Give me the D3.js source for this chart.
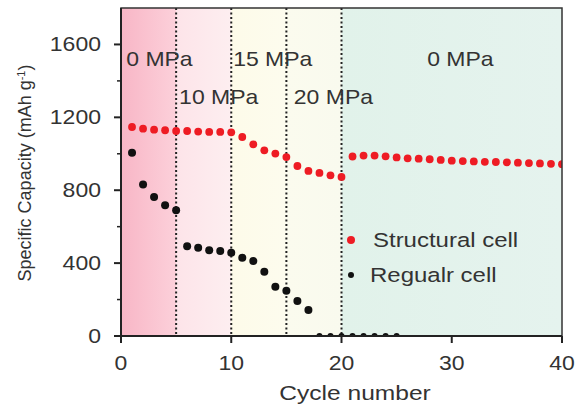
<!DOCTYPE html>
<html><head><meta charset="utf-8">
<script src="https://cdn.jsdelivr.net/npm/d3@7"></script>
<style>body{margin:0;background:#fff}svg{display:block}text{font-family:"Liberation Sans",Arial,sans-serif;fill:#333}</style>
</head><body><svg id="c" width="584" height="412"></svg>
<script>
const cycles = d3.range(1, 41);
const structural = [1147,1138,1132,1129,1125,1125,1122,1120,1120,1118,1092,1052,1019,1001,982,933,906,895,882,873,
  985,990,990,986,980,975,973,970,966,962,960,958,956,955,953,951,949,947,945,943];
const regularCycles = d3.range(1, 26);
const regular = [1006,831,763,718,690,493,484,471,466,457,429,411,352,270,248,192,142,0,0,0,0,0,0,0,0];
const bandBreaks = [0,5,10,15,20,40];
const bandColors = [["#f8b6c6","#fcd0da"],["#fde4e9","#fdeef0"],["#fdfbe9","#fdfcee"],["#fbfbee","#f9faee"],["#e1f2ea","#e5f3ee"]];
const pressureLabels = [{t:"0 MPa",x:0.2,row:0},{t:"10 MPa",x:5,row:1},{t:"15 MPa",x:9.9,row:0},{t:"20 MPa",x:15.4,row:1},{t:"0 MPa",x:27.5,row:0}];
const xTicks = [0,10,20,30,40];
const yTicks = [0,400,800,1200,1600];
const yMinor = [200,600,1000,1400];

const svg = d3.select("#c");
const L=121,R=562,T=8,B=336;
const x = d3.scaleLinear().domain([0,40]).range([L,R]);
const y = d3.scaleLinear().domain([0,1800]).range([B,T]);
const SX=1.15;
function stretch(sel, sx){ const s=sx||SX; sel.attr("transform",function(){const t=d3.select(this);const px=+t.attr("x"),py=+t.attr("y");return `translate(${px},${py}) scale(${s},1) translate(${-px},${-py})`;}); }

const defs = svg.append("defs");
bandColors.forEach((c,i)=>{
  const g=defs.append("linearGradient").attr("id","g"+i).attr("x1","0").attr("x2","1").attr("y1","0").attr("y2","0");
  g.append("stop").attr("offset","0").attr("stop-color",c[0]);
  g.append("stop").attr("offset","1").attr("stop-color",c[1]);
});
defs.append("clipPath").attr("id","clip").append("rect").attr("x",L).attr("y",T).attr("width",R-L).attr("height",B-T);

// bands
bandBreaks.slice(0,-1).forEach((b,i)=>{
  svg.append("rect").attr("x",x(b)).attr("y",T).attr("width",x(bandBreaks[i+1])-x(b)).attr("height",B-T).attr("fill",`url(#g${i})`);
});
// dotted separators
bandBreaks.slice(1,-1).forEach(b=>{
  svg.append("line").attr("x1",x(b)).attr("x2",x(b)).attr("y1",T).attr("y2",B)
    .attr("stroke","#222").attr("stroke-width",2).attr("stroke-dasharray","2,2.5");
});
// pressure labels
pressureLabels.forEach(p=>{
  svg.append("text").attr("x",x(p.x)+3).attr("y",p.row===0?66:104).attr("font-size",20).text(p.t).call(stretch);
});

const plot = svg.append("g").attr("clip-path","url(#clip)");
plot.selectAll("circle.r").data(cycles).join("circle").attr("class","r")
  .attr("cx",d=>x(d)).attr("cy",(d,i)=>y(structural[i])).attr("r",3.9).attr("fill","#ee1c24");
plot.selectAll("circle.k").data(regularCycles).join("circle").attr("class","k")
  .attr("cx",d=>x(d)).attr("cy",(d,i)=>y(regular[i])).attr("r",(d,i)=>regular[i]===0?3:4).attr("fill","#111");

// frame
svg.append("rect").attr("x",L).attr("y",T).attr("width",R-L).attr("height",B-T).attr("fill","none").attr("stroke","#333").attr("stroke-width",1.5);
svg.append("line").attr("x1",L).attr("x2",R).attr("y1",B).attr("y2",B).attr("stroke","#222").attr("stroke-width",2);
svg.append("line").attr("x1",L).attr("x2",L).attr("y1",T).attr("y2",B).attr("stroke","#222").attr("stroke-width",2);

// axes ticks
const xa = svg.append("g");
xTicks.forEach(t=>{
  xa.append("line").attr("x1",x(t)).attr("x2",x(t)).attr("y1",B).attr("y2",B+7).attr("stroke","#222").attr("stroke-width",2);
  xa.append("text").attr("x",x(t)).attr("y",370).attr("text-anchor","middle").attr("font-size",20).text(t).call(stretch);
});
yTicks.forEach(t=>{
  svg.append("line").attr("x1",L-7).attr("x2",L).attr("y1",y(t)).attr("y2",y(t)).attr("stroke","#222").attr("stroke-width",2);
  svg.append("text").attr("x",101).attr("y",y(t)+7).attr("text-anchor","end").attr("font-size",20).text(t).call(stretch);
});
yMinor.forEach(t=>{
  svg.append("line").attr("x1",L-4).attr("x2",L).attr("y1",y(t)).attr("y2",y(t)).attr("stroke","#222").attr("stroke-width",1.5);
});

// axis titles
svg.append("text").attr("x",355).attr("y",400).attr("text-anchor","middle").attr("font-size",21).text("Cycle number").call(stretch, 1.17);
const yt = svg.append("text").attr("transform","translate(31,173) rotate(-90)").attr("text-anchor","middle").attr("font-size",18);
yt.append("tspan").text("Specific Capacity (mAh g");
yt.append("tspan").attr("dy",-6).attr("font-size",11).text("-1");
yt.append("tspan").attr("dy",6).text(")");

// legend
svg.append("circle").attr("cx",351).attr("cy",240).attr("r",4).attr("fill","#ee1c24");
svg.append("text").attr("x",373).attr("y",247).attr("font-size",20.5).text("Structural cell").call(stretch, 1.17);
svg.append("circle").attr("cx",351).attr("cy",275).attr("r",3).attr("fill","#111");
svg.append("text").attr("x",370).attr("y",282).attr("font-size",20.5).text("Regualr cell").call(stretch, 1.17);
</script></body></html>
